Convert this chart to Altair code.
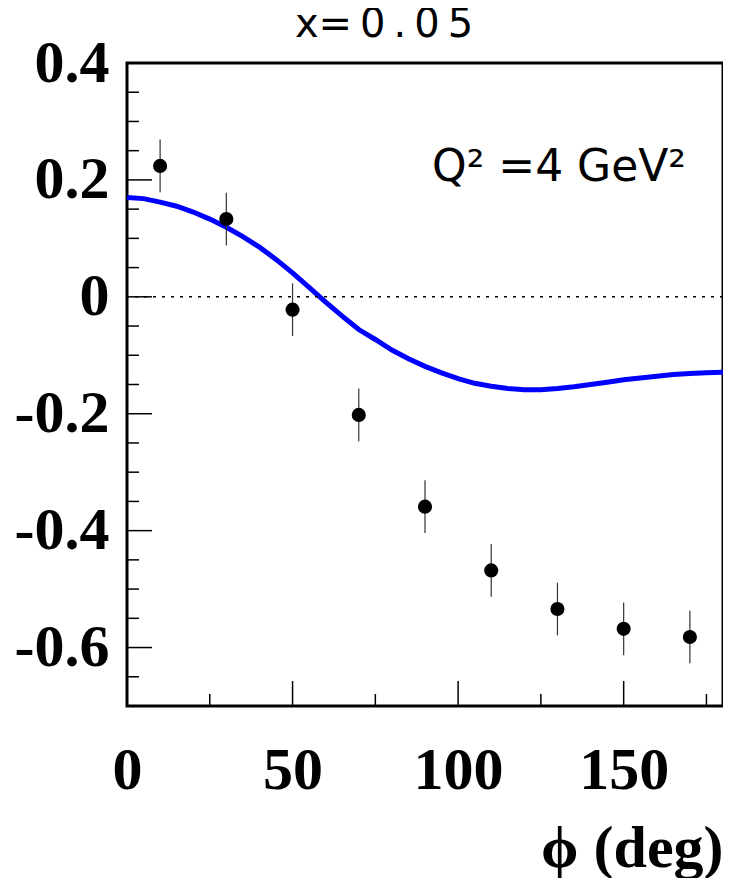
import altair as alt
import pandas as pd

# ---- data ----
phi_pts = [10, 30, 50, 70, 90, 110, 130, 150, 170]
asym_pts = [0.224, 0.133, -0.022, -0.202, -0.359, -0.468, -0.534, -0.568, -0.582]
asym_err = [0.045, 0.045, 0.045, 0.045, 0.045, 0.045, 0.045, 0.045, 0.045]

phi_curve = [0, 5, 10, 15, 20, 25, 30, 35, 40, 45, 50, 55, 60, 65, 70, 75, 80, 85, 90,
             95, 100, 105, 110, 115, 120, 125, 130, 135, 140, 145, 150, 155, 160, 165,
             170, 175, 180]
asym_curve = [0.170, 0.168, 0.162, 0.155, 0.145, 0.133, 0.119, 0.103, 0.085, 0.064,
              0.041, 0.016, -0.009, -0.033, -0.056, -0.073, -0.091, -0.106, -0.119,
              -0.130, -0.140, -0.148, -0.153, -0.157, -0.159, -0.159, -0.157, -0.154,
              -0.150, -0.146, -0.142, -0.139, -0.136, -0.133, -0.131, -0.130, -0.129]

x_major = [0, 50, 100, 150]
x_minor = [25, 75, 125, 175]
y_major = [-0.6, -0.4, -0.2, 0, 0.2, 0.4]
y_minor = [-0.65, -0.55, -0.5, -0.45, -0.35, -0.3, -0.25, -0.15, -0.1, -0.05,
           0.05, 0.1, 0.15, 0.25, 0.3, 0.35]

title_text = "x=\u20090\u2009.\u20090\u20095"
q2_text = "Q² =4 GeV²"
x_title = "\u03d5 (deg)"

# ---- tables ----
pts = pd.DataFrame({"phi": phi_pts, "a": asym_pts, "e": asym_err})
pts["lo"] = pts["a"] - pts["e"]
pts["hi"] = pts["a"] + pts["e"]
curve = pd.DataFrame({"phi": phi_curve, "a": asym_curve})

W, H = 596, 643
xs = alt.Scale(domain=[0, 180], nice=False, zero=False)
ys = alt.Scale(domain=[-0.7, 0.4], nice=False, zero=False)

serif = "Liberation Serif"

x_axis = alt.Axis(
    values=x_major, title=x_title, ticks=False, domain=False, grid=False,
    labelFont=serif, labelFontWeight="bold", labelFontSize=60, labelColor="black",
    labelPadding=35, labelFlush=False, labelOverlap=False, format="d",
    titleFont=serif, titleFontWeight="bold", titleFontSize=60, titleColor="black",
    titleX=W, titleY=160, titleAlign="right", titleBaseline="alphabetic",
)
y_axis = alt.Axis(
    values=y_major, title=None, ticks=False, domain=False, grid=False,
    labelExpr="datum.value == 0 ? '0' : (datum.value < 0 ? '-' : '') + format(abs(datum.value), '.1f')",
    labelFont=serif, labelFontWeight="bold", labelFontSize=60, labelColor="black",
    labelPadding=18, labelFlush=False, labelOverlap=False,
)


def X(field):
    return alt.X(field, scale=xs, title=x_title)


def Y(field):
    return alt.Y(field, scale=ys, title=None)


line = alt.Chart(curve).mark_line(color="#0000ff", strokeWidth=5).encode(
    x=alt.X("phi:Q", scale=xs, axis=x_axis),
    y=alt.Y("a:Q", scale=ys, axis=y_axis),
)

zero = alt.Chart(pd.DataFrame({"z": [0]})).mark_rule(
    color="black", strokeWidth=1.5, strokeDash=[3, 6]
).encode(y=Y("z:Q"))

ytick_major = alt.Chart(pd.DataFrame({"v": y_major})).mark_rule(
    color="black", strokeWidth=1.5
).encode(y=Y("v:Q"), x=alt.value(0), x2=alt.value(25))
ytick_minor = alt.Chart(pd.DataFrame({"v": y_minor})).mark_rule(
    color="black", strokeWidth=1.5
).encode(y=Y("v:Q"), x=alt.value(0), x2=alt.value(12))
xtick_major = alt.Chart(pd.DataFrame({"v": x_major})).mark_rule(
    color="black", strokeWidth=1.5
).encode(x=X("v:Q"), y=alt.value(H), y2=alt.value(H - 25))
xtick_minor = alt.Chart(pd.DataFrame({"v": x_minor})).mark_rule(
    color="black", strokeWidth=1.5
).encode(x=X("v:Q"), y=alt.value(H), y2=alt.value(H - 12))

errs = alt.Chart(pts).mark_rule(color="#333333", strokeWidth=1.2).encode(
    x=X("phi:Q"), y=Y("lo:Q"), y2="hi:Q",
)
dots = alt.Chart(pts).mark_circle(size=200, color="black", opacity=1).encode(
    x=X("phi:Q"), y=Y("a:Q"),
)

title_mark = alt.Chart(pd.DataFrame({"t": [title_text]})).mark_text(
    font="DejaVu Sans", fontSize=40, align="center", baseline="alphabetic", color="black"
).encode(text="t:N", x=alt.value(257), y=alt.value(-26))

q2_mark = alt.Chart(pd.DataFrame({"t": [q2_text]})).mark_text(
    font="DejaVu Sans", fontSize=44, align="center", baseline="alphabetic", color="black"
).encode(text="t:N", x=alt.value(432), y=alt.value(118))

chart = alt.layer(
    line, zero, ytick_major, ytick_minor, xtick_major, xtick_minor,
    errs, dots, title_mark, q2_mark,
).properties(
    width=W, height=H,
    autosize=alt.AutoSizeParams(type="none"),
    padding={"left": 119, "top": 55, "right": 0, "bottom": 172},
    background="white",
).configure_view(stroke="black", strokeWidth=3)

chart.save("out.html", embed_options={"renderer": "svg", "actions": False})
